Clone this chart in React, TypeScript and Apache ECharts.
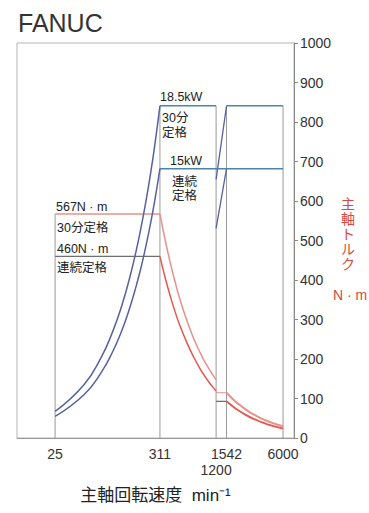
import React, { useEffect, useRef } from "react";
import * as echarts from "echarts";

const FONT = '"Liberation Sans", "Noto Sans CJK JP", sans-serif';

// Spindle speed tick labels (min^-1)
const speedTicks = [25, 311, 1200, 1542, 6000];

// Output power in the constant-torque range (kW)
const riseSpeed = [25, 50, 75, 100, 125, 150, 175, 200, 225, 250, 275, 311];
const power30Rise = [1.48, 2.97, 4.45, 5.94, 7.42, 8.91, 10.39, 11.88, 13.36, 14.84, 16.33, 18.5];
const powerContRise = [1.2, 2.41, 3.61, 4.82, 6.02, 7.23, 8.43, 9.63, 10.84, 12.04, 13.25, 15.0];

// Winding switch range
const switchSpeed = [1200, 1542];
const power30Switch = [14.4, 18.5];
const powerContSwitch = [11.67, 15.0];

// Rated power (kW)
const power30Rated = 18.5;
const powerContRated = 15;

// Torque (N·m)
const torque30Rated = 567;
const torqueContRated = 460;
const fallSpeedLow = [311, 350, 400, 450, 500, 600, 700, 800, 900, 1000, 1100, 1200];
const torque30Low = [567, 505, 442, 393, 353, 294, 252, 221, 196, 177, 161, 147];
const torqueContLow = [460, 409, 358, 318, 286, 239, 205, 179, 159, 143, 130, 119];
const torque30Switch = 114.6;
const torqueContSwitch = 92.9;
const fallSpeedHigh = [1542, 1800, 2000, 2500, 3000, 3500, 4000, 4500, 5000, 5500, 6000];
const torque30High = [114.6, 98.1, 88.3, 70.7, 58.9, 50.5, 44.2, 39.3, 35.3, 32.1, 29.4];
const torqueContHigh = [92.9, 79.6, 71.6, 57.3, 47.7, 40.9, 35.8, 31.8, 28.6, 26.0, 23.9];

const zip = (xs: number[], ys: number[]) => xs.map((x, i) => [x, ys[i]]);

const BLUE = "#56619f";
const TEAL = "#4b83ab";
const RED = "#e5574c";
const PINK = "#e9908a";
const GRAY = "#9b9b9b";
const DARK = "#6e6e6e";

function seg(
  data: number[][],
  color: string,
  width: number,
  yAxisIndex: number,
  smooth = false
) {
  return {
    type: "line",
    yAxisIndex,
    data,
    smooth,
    symbol: "none",
    silent: true,
    lineStyle: { color, width },
    z: 3,
  };
}

export default function App() {
  const ref = useRef<HTMLDivElement>(null);

  useEffect(() => {
    if (!ref.current) return;
    const chart = echarts.init(ref.current, undefined, { renderer: "svg" });

    const frame = [
      seg([[25, 0], [25, torque30Rated]], GRAY, 1, 0),
      ...speedTicks.slice(1).map((s) => seg([[s, 0], [s, power30Rated]], GRAY, 1, 1)),
    ];

    const series = [
      ...frame,
      // constant torque
      seg([[25, torque30Rated], [311, torque30Rated]], PINK, 1.5, 0),
      seg([[25, torqueContRated], [311, torqueContRated]], DARK, 1.2, 0),
      // torque decay, low-speed winding
      seg(zip(fallSpeedLow, torque30Low), PINK, 1.5, 0, true),
      seg(zip(fallSpeedLow, torqueContLow), RED, 1.5, 0, true),
      // switch range
      seg([[1200, torque30Switch], [1542, torque30Switch]], PINK, 1.2, 0),
      seg([[1200, torqueContSwitch], [1542, torqueContSwitch]], DARK, 1.2, 0),
      // torque decay, high-speed winding
      seg(zip(fallSpeedHigh, torque30High), PINK, 2, 0, true),
      seg(zip(fallSpeedHigh, torqueContHigh), RED, 1.8, 0, true),
      // power rise
      seg(zip(riseSpeed, power30Rise), BLUE, 1.5, 1, true),
      seg(zip(riseSpeed, powerContRise), BLUE, 1.5, 1, true),
      seg(zip(switchSpeed, power30Switch), BLUE, 1.3, 1),
      seg(zip(switchSpeed, powerContSwitch), BLUE, 1.3, 1),
      // rated power
      seg([[311, power30Rated], [1200, power30Rated]], TEAL, 1.5, 1),
      seg([[1542, power30Rated], [6000, power30Rated]], TEAL, 1.5, 1),
      seg([[311, powerContRated], [6000, powerContRated]], TEAL, 1.5, 1),
    ];

    const note = (text: string, x: number, y: number, size = 12.5) => ({
      type: "text",
      x,
      y,
      silent: true,
      style: {
        text,
        fill: "#222",
        fontSize: size,
        fontFamily: FONT,
        align: "left",
        verticalAlign: "middle",
      },
    });

    chart.setOption({
      animation: false,
      backgroundColor: "#ffffff",
      title: {
        text: "FANUC",
        left: 13,
        top: 5,
        textStyle: { fontSize: 25, fontWeight: "normal", color: "#333", fontFamily: FONT },
      },
      grid: {
        left: 17,
        right: 75,
        top: 43,
        bottom: 75,
        show: true,
        borderColor: "#b5b5b5",
        borderWidth: 1,
        backgroundColor: "transparent",
      },
      xAxis: {
        type: "log",
        logBase: 10,
        min: 10,
        max: 7810,
        axisLine: { show: true, lineStyle: { color: "#999" } },
        axisTick: { show: false },
        splitLine: { show: false },
        minorTick: { show: false },
        axisLabel: {
          customValues: speedTicks,
          showMinLabel: true,
          showMaxLabel: true,
          hideOverlap: false,
          margin: 8,
          color: "#333",
          fontSize: 14,
          fontFamily: FONT,
          lineHeight: 16,
          formatter: (v: number) => {
            const r = Math.round(v);
            return r === 1200 ? "\n1200" : String(r);
          },
        },
        name: "主軸回転速度  min⁻¹",
        nameLocation: "middle",
        nameGap: 49,
        nameTextStyle: { fontSize: 17, color: "#222", fontFamily: FONT },
      },
      yAxis: [
        {
          type: "value",
          position: "right",
          min: 0,
          max: 1000,
          interval: 100,
          axisLine: { show: true, lineStyle: { color: "#8a8a8a" } },
          axisTick: { show: true, length: 4, lineStyle: { color: "#8a8a8a" } },
          splitLine: { show: false },
          axisLabel: {
            color: "#333",
            fontSize: 14,
            fontFamily: FONT,
            margin: 6,
            formatter: (v: number) => String(v),
          },
        },
        {
          type: "value",
          min: 0,
          max: 22,
          show: false,
          splitLine: { show: false },
        },
      ],
      graphic: [
        note("18.5kW", 160, 97),
        note("30分", 162, 118),
        note("定格", 162, 133),
        note("15kW", 170, 161),
        note("連続", 172, 182),
        note("定格", 172, 196),
        note("567N · m", 56, 207),
        note("30分定格", 57, 228),
        note("460N · m", 57, 249),
        note("連続定格", 57, 268),
        {
          type: "text",
          x: 348,
          y: 196,
          silent: true,
          style: {
            text: "主\n軸\nト\nル\nク",
            fill: "#d84a3f",
            fontSize: 14,
            lineHeight: 15,
            fontFamily: FONT,
            align: "center",
            verticalAlign: "top",
          },
        },
        {
          type: "text",
          x: 350,
          y: 295,
          silent: true,
          style: {
            text: "N · m",
            fill: "#d84a3f",
            fontSize: 14,
            fontFamily: FONT,
            align: "center",
            verticalAlign: "middle",
          },
        },
      ],
      series,
    });

    return () => chart.dispose();
  }, []);

  return (
    <div
      ref={ref}
      style={{ position: "fixed", left: 0, top: 0, width: 369, height: 513 }}
    />
  );
}
